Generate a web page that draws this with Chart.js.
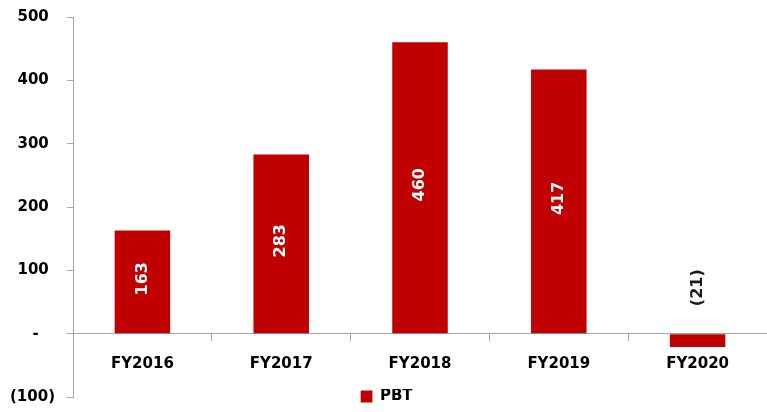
<!DOCTYPE html>
<html lang="en">
<head>
    <meta charset="UTF-8">
    <title>PBT</title>
    <script src="https://cdn.jsdelivr.net/npm/chart.js"></script>
    <style>
        html, body { margin: 0; padding: 0; background: #fff; }
        #wrap { width: 767px; height: 412px; }
    </style>
</head>
<body>
<div id="wrap"><canvas id="pbtChart"></canvas></div>
<script>
    // 데이터
    const years = ['FY2016', 'FY2017', 'FY2018', 'FY2019', 'FY2020'];
    const pbt = [163, 283, 460, 417, -21];
    const yTicks = [-100, 0, 100, 200, 300, 400, 500];
    // 엑셀 회계 서식처럼 보이도록 앞에 en space를 둠 (왼쪽 정렬)
    const yTickLabels = ['(100)', '\u2002\u2002\u2002-', '\u2002100', '\u2002200', '\u2002300', '\u2002400', '\u2002500'];

    const barRed = '#C00000';
    const axisGray = '#a6a6a6';

    Chart.defaults.font.family = '"DejaVu Sans", sans-serif';
    Chart.defaults.color = '#000';

    // 막대 안의 값 표시 (세로로 회전)
    const barLabels = {
        id: 'barLabels',
        afterDatasetsDraw(chart) {
            const ctx = chart.ctx;
            const meta = chart.getDatasetMeta(0);
            meta.data.forEach((bar, i) => {
                const v = pbt[i];
                ctx.save();
                ctx.font = 'bold 16px "DejaVu Sans"';
                ctx.textBaseline = 'middle';
                if (v >= 0) {
                    ctx.translate(bar.x, (bar.y + bar.base) / 2 - 3);
                    ctx.rotate(-Math.PI / 2);
                    ctx.textAlign = 'center';
                    ctx.fillStyle = '#fff';
                    ctx.fillText(String(v), 0, 0);
                } else {
                    ctx.translate(bar.x, bar.base - 28);
                    ctx.rotate(-Math.PI / 2);
                    ctx.textAlign = 'left';
                    ctx.fillStyle = '#1a1a1a';
                    ctx.fillText('(' + Math.abs(v) + ')', 0, 0);
                }
                ctx.restore();
            });
        }
    };

    // 범례를 차트 아래쪽 (100) 높이로 옮김
    const legendPlace = {
        id: 'legendPlace',
        afterLayout(chart) {
            const lg = chart.legend;
            if (!lg || !lg.legendHitBoxes.length) return;
            const w = lg.legendHitBoxes[0].width;
            lg.left = chart.width / 2 - w / 2 + 3;
            lg.right = lg.left + w + 10;
            lg.top = chart.chartArea.bottom - 8;
            lg.bottom = chart.height;
        }
    };

    new Chart(document.getElementById('pbtChart'), {
        type: 'bar',
        data: {
            labels: years,
            datasets: [{
                label: 'PBT',
                data: pbt,
                backgroundColor: barRed,
                borderWidth: 0,
                barPercentage: 0.4,
                categoryPercentage: 1
            }]
        },
        options: {
            responsive: true,
            maintainAspectRatio: false,
            animation: false,
            layout: { padding: { left: 10, right: 0, top: 17, bottom: 14 } },
            plugins: {
                legend: {
                    position: 'chartArea',
                    align: 'start',
                    labels: {
                        boxWidth: 12,
                        boxHeight: 12,
                        padding: 0,
                        color: '#000',
                        font: { size: 15, weight: 'bold' }
                    }
                },
                tooltip: { enabled: false }
            },
            scales: {
                x: {
                    position: { y: 0 },
                    grid: {
                        drawOnChartArea: false,
                        tickLength: 7,
                        color: axisGray,
                        offset: true
                    },
                    border: { color: axisGray },
                    ticks: {
                        color: '#000',
                        padding: 14,
                        font: { size: 15, weight: 'bold' }
                    }
                },
                y: {
                    min: -100,
                    max: 500,
                    afterBuildTicks(scale) {
                        scale.ticks = yTicks.map(v => ({ value: v }));
                    },
                    grid: {
                        drawOnChartArea: false,
                        tickLength: 6,
                        color: axisGray
                    },
                    border: { color: axisGray },
                    ticks: {
                        color: '#000',
                        padding: 6,
                        crossAlign: 'far',
                        font: { size: 15, weight: 'bold' },
                        callback: (value) => yTickLabels[yTicks.indexOf(value)]
                    }
                }
            }
        },
        plugins: [barLabels, legendPlace]
    });
</script>
</body>
</html>
